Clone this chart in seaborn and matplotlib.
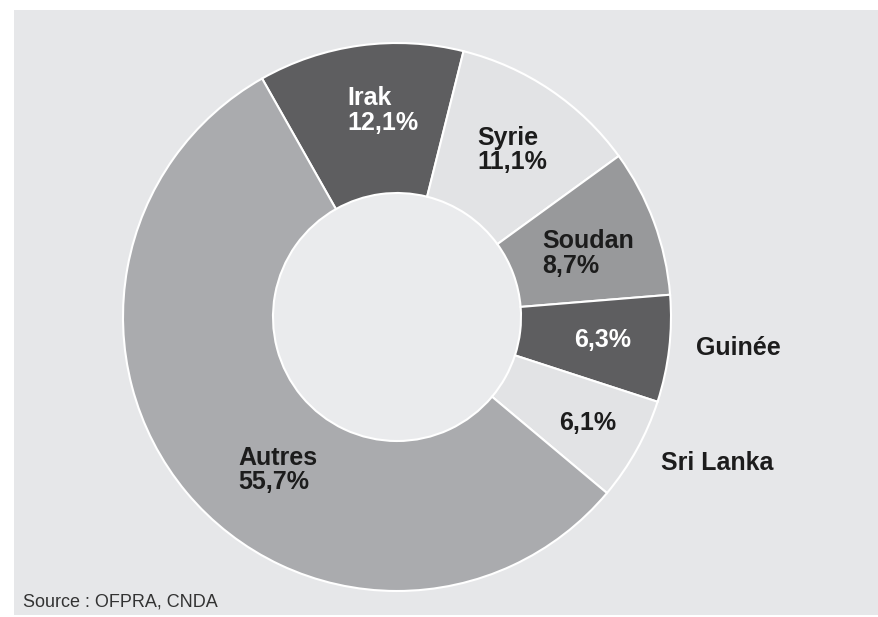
import matplotlib
matplotlib.use('Agg')
import matplotlib.pyplot as plt
import seaborn as sns
from matplotlib.patches import Rectangle, Circle

# Données : demandes d'asile par pays (en %)
pays = ['Irak', 'Syrie', 'Soudan', 'Guinée', 'Sri Lanka', 'Autres']
parts = [12.1, 11.1, 8.7, 6.3, 6.1, 55.7]
couleurs = ['#5e5e60', '#e2e3e5', '#98999b', '#5e5e60', '#e2e3e5', '#aaabae']
# pays dont le nom est écrit hors de l'anneau
noms_dehors = ['Guinée', 'Sri Lanka']
source = 'Source : OFPRA, CNDA'

sns.set_theme(style='white')
plt.rcParams['font.family'] = ['Liberation Sans', 'DejaVu Sans']

fig = plt.figure(figsize=(8.79, 6.17), dpi=100, facecolor='white')

# fond gris du cadre (derrière l'axe)
fig.patches.append(Rectangle((14 / 879, 1 - 615 / 617), 1, 605 / 617,
                             transform=fig.transFigure, facecolor='#e6e7e9',
                             edgecolor='none', zorder=-10))

# axe carré centré sur l'anneau (centre 397,317 px, rayon 274 px)
ax = fig.add_axes([123 / 879, 1 - 591 / 617, 548 / 879, 548 / 617])
ax.set_facecolor('none')
ax.axis('off')

trou = 124 / 274
wedges, _ = ax.pie(parts, colors=couleurs, startangle=119.5, counterclock=False,
                   radius=1, wedgeprops=dict(width=1 - trou, edgecolor='white', linewidth=1.5))
ax.add_patch(Circle((0, 0), trou, facecolor='#eaebed', edgecolor='none', zorder=0))
ax.set_xlim(-1, 1)
ax.set_ylim(-1, 1)
ax.set_aspect('equal')


def px(x, y):
    # pixels de l'image -> coordonnées de l'axe
    return (x - 397) / 274, (317 - y) / 274


def fmt(v):
    return f'{v:.1f}%'.replace('.', ',')


# position des étiquettes (en pixels) et alignement
positions = {
    'Irak': (347, 110.5, 'left', 'white'),
    'Syrie': (477, 150, 'left', '#1c1c1c'),
    'Soudan': (542, 253.5, 'left', '#1c1c1c'),
    'Guinée': (602.5, 340, 'center', 'white'),
    'Sri Lanka': (587.5, 423, 'center', '#1c1c1c'),
    'Autres': (238, 470, 'left', '#1c1c1c'),
}
for nom, v in zip(pays, parts):
    x, y, ha, c = positions[nom]
    if nom in noms_dehors:
        texte = fmt(v)
    else:
        texte = f'{nom}\n{fmt(v)}'
    ax.text(*px(x, y), texte, ha=ha, va='center', color=c, fontsize=18,
            fontweight='bold', linespacing=1.05, multialignment=ha)

# noms écrits à l'extérieur
ax.text(*px(738.5, 348), 'Guinée', ha='center', va='center', color='#1c1c1c',
        fontsize=18, fontweight='bold')
ax.text(*px(717.5, 463), 'Sri Lanka', ha='center', va='center', color='#1c1c1c',
        fontsize=18, fontweight='bold')

fig.text(23 / 879, 1 - 602 / 617, source, ha='left', va='center',
         fontsize=13, color='#333333')

fig.savefig('out.png', dpi=100, facecolor='white')
